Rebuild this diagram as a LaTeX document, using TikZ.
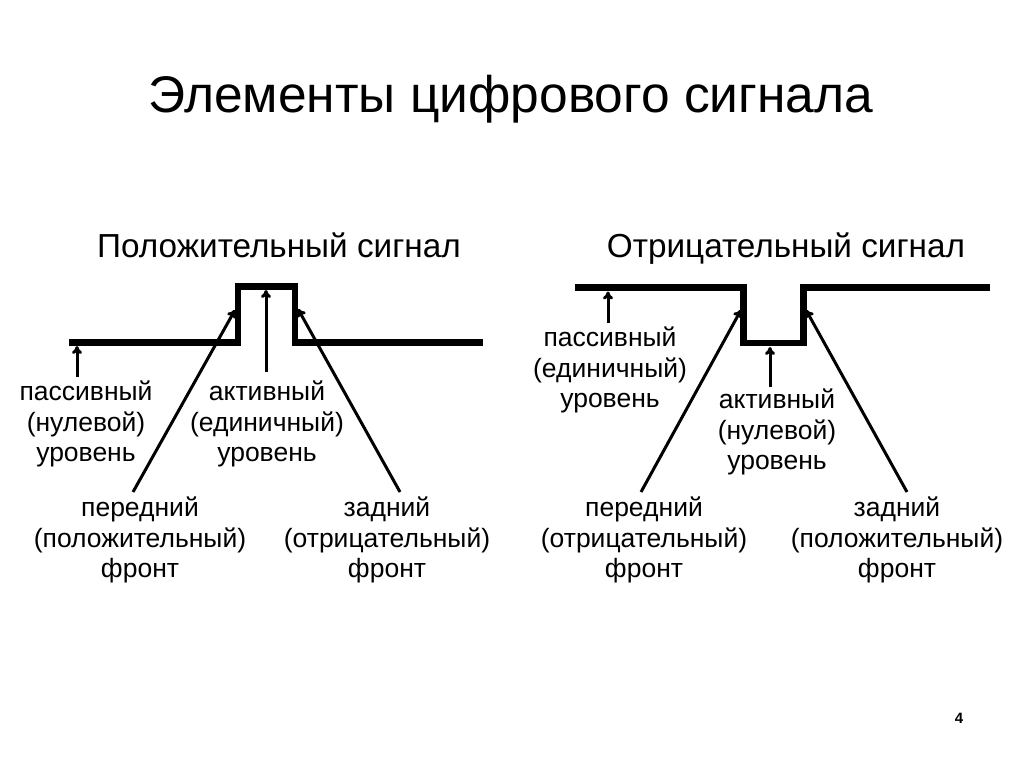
\documentclass[tikz,border=0pt]{standalone}
\usepackage{fontspec}
\setmainfont{Liberation Sans}
\usetikzlibrary{arrows.meta,positioning}

\tikzset{
  signal/.style={line width=6.5pt},
  pointer/.style={line width=3pt,-{To[length=8pt,width=10pt]}},
  lbl/.style={align=center,inner sep=0pt,anchor=north,font=\fontsize{26.5}{30.5}\selectfont},
  heading/.style={anchor=base,font=\fontsize{33.3}{38}\selectfont}
}

\begin{document}
\begin{tikzpicture}[x=1pt,y=-1pt]
	\useasboundingbox (0,0) rectangle (1024,767);
	\node[anchor=base,font=\fontsize{51.5}{60}\selectfont] (title) at (511,113) {Элементы цифрового сигнала};
	\node[heading] (posHead) at (279,257) {Положительный сигнал};
	\node[heading] (negHead) at (786,257) {Отрицательный сигнал};
	% positive pulse
	\draw[signal] (69,342.5) -- (238,342.5) -- (238,286.5) -- (295,286.5) -- (295,342.5) -- (483,342.5);
	\coordinate (posPas) at (77,346);
	\coordinate (posLead) at (235,310);
	\coordinate (posAct) at (266,290);
	\coordinate (posTrail) at (298,309);
	\node[lbl] (posPasTxt) at (86,381) {пассивный\\(нулевой)\\уровень};
	\node[lbl] (posActTxt) at (267,381) {активный\\(единичный)\\уровень};
	\node[lbl] (posLeadTxt) at (140,497) {передний\\(положительный)\\фронт};
	\node[lbl] (posTrailTxt) at (387,497) {задний\\(отрицательный)\\фронт};
	\draw[pointer] ([xshift=-9pt,yshift=4pt]posPasTxt.north) -- (posPas);
	\draw[pointer] ([xshift=-1pt,yshift=9pt]posActTxt.north) -- (posAct);
	\draw[pointer] ([xshift=-7pt,yshift=5pt]posLeadTxt.north) -- (posLead);
	\draw[pointer] ([xshift=13pt,yshift=5pt]posTrailTxt.north) -- (posTrail);
	% negative pulse
	\draw[signal] (575,287.5) -- (743.5,287.5) -- (743.5,343) -- (803.5,343) -- (803.5,287.5) -- (990,287.5);
	\coordinate (negPas) at (608,291.5);
	\coordinate (negLead) at (741,310);
	\coordinate (negAct) at (770,347);
	\coordinate (negTrail) at (806,310);
	\node[lbl] (negPasTxt) at (610,327) {пассивный\\(единичный)\\уровень};
	\node[lbl] (negActTxt) at (777,389) {активный\\(нулевой)\\уровень};
	\node[lbl] (negLeadTxt) at (644,497) {передний\\(отрицательный)\\фронт};
	\node[lbl] (negTrailTxt) at (897,497) {задний\\(положительный)\\фронт};
	\draw[pointer] ([xshift=-2pt,yshift=4pt]negPasTxt.north) -- (negPas);
	\draw[pointer] ([xshift=-7pt,yshift=2pt]negActTxt.north) -- (negAct);
	\draw[pointer] ([xshift=-3pt,yshift=5pt]negLeadTxt.north) -- (negLead);
	\draw[pointer] ([xshift=10pt,yshift=5pt]negTrailTxt.north) -- (negTrail);
	\node[font=\fontsize{15}{17}\selectfont\bfseries] (pageNo) at (959,718) {4};
\end{tikzpicture}
\end{document}
